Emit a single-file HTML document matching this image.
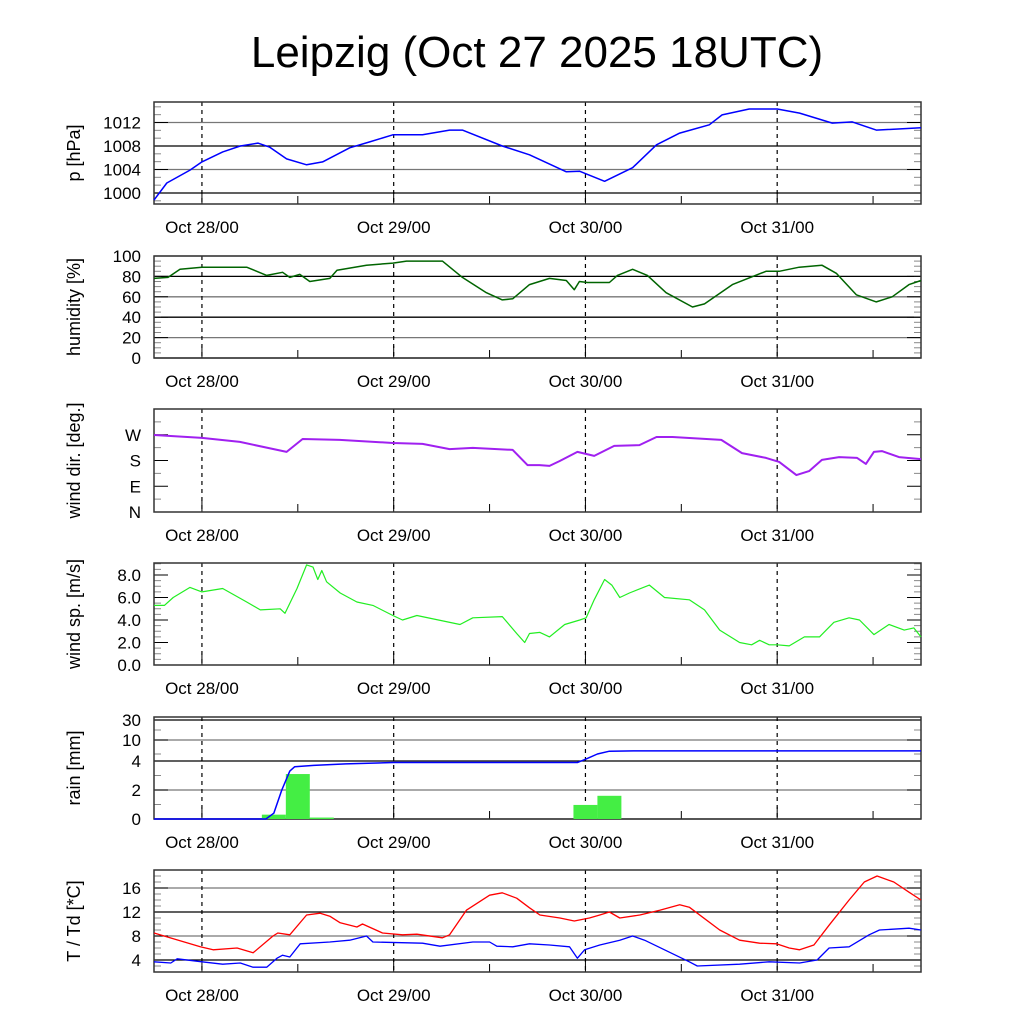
<!DOCTYPE html>
<html><head><meta charset="utf-8">
<style>
html,body{margin:0;padding:0;background:#fff;}
svg{display:block;font-family:"Liberation Sans",Arial,sans-serif;}
</style></head>
<body>
<svg id="chart" width="1024" height="1024" viewBox="0 0 1024 1024" xmlns="http://www.w3.org/2000/svg">
<rect x="0" y="0" width="1024" height="1024" fill="#fff"/>
<text x="537" y="67" font-size="44" text-anchor="middle" fill="#000">Leipzig (Oct 27 2025 18UTC)</text>
</svg>
<script>
// ---- data (hours since Oct 27 18UTC) ----
const dayLabels = ["Oct 28/00","Oct 29/00","Oct 30/00","Oct 31/00"];
const dayHours = [6,30,54,78];

const presT = [0,1.6,4.5,6,8.6,10.8,13,14.5,16.6,19.1,21.1,24.5,27,29.9,33.6,37,38.6,43.6,47,51.6,53.3,56.4,59.9,62.9,65.8,69.5,71.1,74.5,78,80.8,84.9,87.4,90.4,96];
const presV = [998.8,1001.7,1003.9,1005.3,1007.0,1008.0,1008.5,1007.8,1005.8,1004.8,1005.3,1007.7,1008.7,1009.9,1009.9,1010.7,1010.7,1008.0,1006.5,1003.6,1003.7,1002.0,1004.3,1008.2,1010.2,1011.6,1013.3,1014.3,1014.3,1013.6,1011.9,1012.1,1010.7,1011.1];

const humT = [0,1.75,3.25,6,11.6,14.1,16.1,17,18.25,19.5,22,22.9,26.6,29.9,31.6,36.1,38.6,41.6,43.6,44.9,47,49.5,51.6,52.6,53.25,54.25,57,58,59.9,61.75,64.1,67.4,68.9,72.4,76.6,78.25,80.75,83.6,85.4,87.9,90.4,92.4,94.5,96];
const humV = [78,79,87,89,89,81,84,79,82,75,78,86,91,93,95,95,79,64,57,58,72,78,76,67,75,74,74,81,87,81,64,50,53,72,85,85,89,91,83,62,55,60,72,76];

const dirT = [0,6,10.75,16.6,18.6,23.25,29.9,33.6,37,39.9,44.9,46.75,48.25,49.5,50.75,53,55.1,57.6,60.75,62.9,64.9,71,73.6,76.6,78.25,80.4,82,83.6,85.75,88,89.1,90.1,91.1,93.25,96];
const dirV = [269,259,245,210,255,252,241,238,220,224,217,164,164,161,178,210,196,231,234,262,262,252,206,189,175,129,143,182,192,189,168,210,213,192,185];

const wsT = [0,1.3,2.4,4.5,6,8.6,11.6,13.3,15.8,16.4,17.9,19.1,19.9,20.5,21,21.6,23.3,25.4,27.4,29.9,31.1,32.9,38.3,39.9,43.6,45.4,46.4,47,48.3,49.5,51.4,53.3,54.1,55.1,56.4,57.3,58.3,59.5,62,63.9,67,68.9,70.8,73.3,74.8,75.8,77,78,79.5,81.4,83.3,85.1,87,88.3,90.1,92,93.9,95.1,96];
const wsV = [5.3,5.3,6.0,6.9,6.5,6.8,5.6,4.9,5.0,4.6,6.8,8.9,8.7,7.6,8.4,7.4,6.4,5.6,5.3,4.4,4.0,4.4,3.6,4.2,4.3,2.8,2.0,2.8,2.9,2.5,3.6,4.0,4.2,5.8,7.6,7.1,6.0,6.4,7.1,6.0,5.8,4.9,3.1,2.0,1.8,2.2,1.8,1.8,1.7,2.5,2.5,3.8,4.2,4.0,2.7,3.6,3.1,3.3,2.5];

const rainBarT = [15,18,21,54,57];
const rainBarV = [0.3,3.1,0.1,0.97,1.6];
const rainCumT = [0,14,15,16,17,17.6,20,24,30,53,54,55.5,57,60,96];
const rainCumV = [0,0,0.4,2.0,3.3,3.6,3.7,3.8,3.9,3.9,4.5,6.0,6.8,6.9,6.9];

const tempT = [0,5.8,7.4,10.4,12.4,14.9,15.5,17,19.1,20.8,22,23.3,25.4,26.1,28.6,31.1,32.9,36.1,37,39.1,42,43.6,45.4,47,48.3,50.8,52.6,54.5,55.8,57,58.3,60.8,63.3,65.8,67,70.8,73.3,75.8,77.9,79.5,80.8,82.6,84.5,87,88.9,90.5,92.6,94.5,96];
const tempV = [8.5,6.2,5.7,6.0,5.2,8.0,8.5,8.2,11.5,11.8,11.3,10.2,9.5,10.0,8.5,8.2,8.3,7.7,8.2,12.3,14.8,15.2,14.3,12.7,11.5,11.0,10.5,11.0,11.5,12.0,11.0,11.5,12.3,13.2,12.8,9.0,7.3,6.8,6.7,6.0,5.7,6.5,9.8,14.0,17.0,18.0,17.0,15.3,14.0];
const dewT = [0,2.1,2.9,6,8.6,10.8,12.4,14.1,15.4,16.1,17,18.3,22,24.5,26.6,27.4,33.6,35.8,39.9,42,42.9,44.9,47,49.5,52,53,53.9,55.8,58.3,59.9,61.4,63.9,67,68,73.3,77,80.8,83,84.5,87,89.5,90.8,94.5,96];
const dewV = [3.7,3.5,4.2,3.7,3.3,3.5,2.8,2.8,4.3,4.8,4.5,6.7,7.0,7.3,8.0,7.0,6.8,6.3,7.0,7.0,6.3,6.2,6.7,6.5,6.2,4.3,5.7,6.5,7.3,8.0,7.3,5.7,3.7,3.0,3.3,3.7,3.5,4.0,6.0,6.2,8.2,9.0,9.3,9.0];

const pTicks=[1000,1004,1008,1012], pLabels=["1000","1004","1008","1012"];
const hTicks=[0,20,40,60,80,100], hLabels=["0","20","40","60","80","100"];
const dTicks=[0,90,180,270], dLabels=["N","E","S","W"];
const wTicks=[0,2,4,6,8], wLabels=["0.0","2.0","4.0","6.0","8.0"];
const rTicks=[0,2,4,10,30], rLabels=["0","2","4","10","30"];
const tTicks=[4,8,12,16], tLabels=["4","8","12","16"];

// ---- drawing ----
const NS="http://www.w3.org/2000/svg";
const svg=document.getElementById('chart');
const X0=154,X1=921,TMAX=96;
const xs=h=>X0+(h/TMAX)*(X1-X0);
function el(tag,attrs,parent){const e=document.createElementNS(NS,tag);for(const k in attrs)e.setAttribute(k,attrs[k]);(parent||svg).appendChild(e);return e;}
function lin(v0,v1,y0,y1){return v=>y0+(v-v0)/(v1-v0)*(y1-y0);}
const rainVals=[0,2,4,10,30,40], rainPix=[819,790,761,740,720,714];
function rainY(v){for(let i=0;i<rainVals.length-1;i++){if(v<=rainVals[i+1]){const f=(v-rainVals[i])/(rainVals[i+1]-rainVals[i]);return rainPix[i]+f*(rainPix[i+1]-rainPix[i]);}}return 714;}

function panel(name,top,bot,ys,ticks,labels,minor,title,grid){
  const g=el('g',{});
  
  
  if(grid){ticks.forEach((t,i)=>{const y=ys(t);const gl=el('line',{x1:X0,x2:X1,y1:y,y2:y,stroke:i%2?'#777':'#000','stroke-width':1.3},g);
    
    });}
  dayHours.forEach(h=>{const l=el('line',{x1:xs(h),x2:xs(h),y1:top,y2:bot,stroke:'#000','stroke-width':1.2,'stroke-dasharray':'4,4'},g);
    
    });
  minor.forEach(v=>{const y=ys(v);if(y<top||y>bot)return;el('line',{x1:X0,x2:X0+7,y1:y,y2:y,stroke:'#888','stroke-width':1},g);el('line',{x1:X1-7,x2:X1,y1:y,y2:y,stroke:'#888','stroke-width':1},g);});
  ticks.forEach(v=>{const y=ys(v);el('line',{x1:X0,x2:X0+14,y1:y,y2:y,stroke:'#000','stroke-width':1},g);el('line',{x1:X1-14,x2:X1,y1:y,y2:y,stroke:'#000','stroke-width':1},g);});
  for(let h=6;h<TMAX;h+=12){const big=dayHours.includes(h);el('line',{x1:xs(h),x2:xs(h),y1:bot,y2:bot-(big?12:8),stroke:'#000','stroke-width':1},g);}
  const fr=el('rect',{x:X0,y:top,width:X1-X0,height:bot-top,fill:'none',stroke:'#333','stroke-width':1.5},g);
  
  
  ticks.forEach((t,i)=>{const tx=el('text',{x:141,y:ys(t)+6,'font-size':17,'text-anchor':'end'},g);tx.textContent=labels[i];
    
    });
  dayHours.forEach((h,i)=>{const tx=el('text',{x:xs(h),y:bot+29,'font-size':17,'text-anchor':'middle'},g);tx.textContent=dayLabels[i];
    
    });
  const cy=(top+bot)/2;
  const tt=el('text',{x:0,y:0,'font-size':18,'text-anchor':'middle',transform:`translate(80 ${cy}) rotate(-90)`},g);
  tt.textContent=title;
  
  
  return g;
}
function line(T,V,ys,color,name,w){
  const d=T.map((t,i)=>(i?'L':'M')+xs(t).toFixed(1)+','+ys(V[i]).toFixed(1)).join('');
  const p=el('path',{d:d,fill:'none',stroke:color,'stroke-width':w||1.5,'stroke-linejoin':'round'});
  
  
}
function range(a,b,s){const r=[];for(let v=a;v<=b+1e-9;v+=s)r.push(v);return r;}

const pY=lin(1000,1012,193,122.5);
panel('pressure',102,204,pY,pTicks,pLabels,range(998.67,1015.4,1.333),'p [hPa]',true);
line(presT,presV,pY,'#0000ff','pressure-line');

const hY=lin(0,100,358,256);
panel('humidity',256,358,hY,hTicks,hLabels,range(0,100,5),'humidity [%]',true);
line(humT,humV,hY,'#006400','humidity-line');

const dY=lin(0,360,512,409);
panel('wind-dir',409,512,dY,dTicks,dLabels,range(45,360,90),'wind dir. [deg.]',false);
line(dirT,dirV,dY,'#a020f0','wind-direction-line',2);

const wY=lin(0,8,665,575);
panel('wind-speed',563,665,wY,wTicks,wLabels,range(0,9,0.5),'wind sp. [m/s]',false);
line(wsT,wsV,wY,'#22ee22','wind-speed-line',1.2);

panel('rain',717,819,rainY,rTicks,rLabels,[1,3,6,20],'rain [mm]',true);
rainBarT.forEach((t,i)=>{const y=rainY(rainBarV[i]);const r=el('rect',{x:xs(t-1.5),y:y,width:xs(t+1.5)-xs(t-1.5),height:819-y,fill:'#44ee44'});
  
  });
line(rainCumT,rainCumV,rainY,'#0000ff','cumulative-rain-line');

const tY=lin(4,16,960,888);
panel('temperature',870,972,tY,tTicks,tLabels,range(2,19,1),'T / Td [*C]',true);
line(tempT,tempV,tY,'#ff0000','temperature-line',1.3);
line(dewT,dewV,tY,'#0000ff','dewpoint-line',1.3);
</script>
</body></html>
